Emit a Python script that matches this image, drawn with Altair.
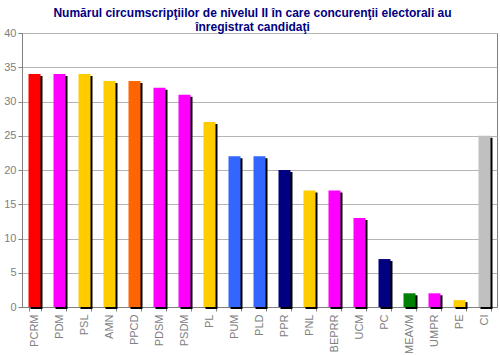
import altair as alt
import pandas as pd

parties = ["PCRM", "PDM", "PSL", "AMN", "PPCD", "PDSM", "PSDM", "PL", "PUM", "PLD",
           "PPR", "PNL", "BEPRR", "UCM", "PC", "MEAVM", "UMPR", "PE", "CI"]
values = [34, 34, 34, 33, 33, 32, 31, 27, 22, 22, 20, 17, 17, 13, 7, 2, 2, 1, 25]
colors = ["#FF0000", "#FF00FF", "#FFCC00", "#FFCC00", "#FF6600", "#FF00FF", "#FF00FF",
          "#FFCC00", "#3366FF", "#3366FF", "#000080", "#FFCC00", "#FF00FF", "#FF00FF",
          "#000080", "#008000", "#FF00FF", "#FFCC00", "#C0C0C0"]

df = pd.DataFrame({"party": parties, "value": values})

font = "Liberation Sans"

x = alt.X("party:N", sort=None, title=None,
          scale=alt.Scale(paddingInner=0.52, paddingOuter=0.26),
          axis=alt.Axis(labelAngle=-90, tickBand="extent", labelFontSize=11,
                        labelFont=font, labelColor="#808080", tickSize=4,
                        labelPadding=3, domainColor="#808080", tickColor="#808080"))
y = alt.Y("value:Q", title=None,
          scale=alt.Scale(domain=[0, 40], nice=False),
          axis=alt.Axis(values=list(range(0, 41, 5)), labelFontSize=11, labelFont=font,
                        labelColor="#808080", tickSize=4, labelPadding=2,
                        gridColor="#B4B4B4", domainColor="#808080", tickColor="#808080"))

shadow = alt.Chart(df).mark_bar(color="black", xOffset=2, yOffset=2, y2Offset=0).encode(
    x=x, y=y)
bars = alt.Chart(df).mark_bar().encode(
    x=x, y=y,
    color=alt.Color("party:N", scale=alt.Scale(domain=parties, range=colors), legend=None))

chart = alt.layer(shadow, bars).properties(
    width=475, height=274,
    autosize=alt.AutoSizeParams(type="none"),
    padding={"left": 22, "top": 33, "right": 3, "bottom": 48},
    title=alt.TitleParams(
        ["Numărul circumscripţiilor de nivelul II în care concurenţii electorali au",
         "înregistrat candidaţi"],
        font=font, fontSize=12, fontWeight="bold", color="#000080",
        anchor="middle", dx=-7, dy=11, offset=4, lineHeight=14)
).configure_view(stroke="#808080", strokeWidth=1)

chart.save("out.html", embed_options={"renderer": "svg", "actions": False})
